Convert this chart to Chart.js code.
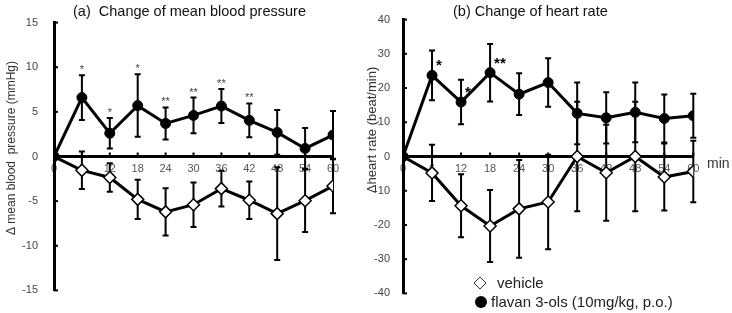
<!DOCTYPE html>
<html><head><meta charset="utf-8">
<script src="https://cdn.jsdelivr.net/npm/chart.js@4/dist/chart.umd.min.js"></script>
<style>
html,body{margin:0;padding:0;background:#fff;}
#wrap{position:relative;width:732px;height:313px;overflow:hidden;background:#fff;}
.box{position:absolute;top:0;height:313px;}
</style></head><body>
<div id="wrap">
<div class="box" style="left:0;width:355px"><canvas id="ca" width="355" height="313"></canvas></div>
<div class="box" style="left:355px;width:377px"><canvas id="cb" width="377" height="313"></canvas></div>
</div>
<script>
// ---------- data ----------
const minutes = [0, 6, 12, 18, 24, 30, 36, 42, 48, 54, 60];
const xTickValues = [0, 6, 12, 18, 24, 30, 36, 42, 48, 54, 60];

// (a) mean blood pressure change (mmHg)
const bpFlavan    = [0, 6.6, 2.6, 5.7, 3.7, 4.6, 5.65, 4.05, 2.7, 0.9, 2.4];
const bpFlavanSD  = [0, 2.5, 1.7, 3.5, 1.8, 2.0, 1.9, 1.9, 2.5, 2.3, 2.7];
const bpVehicle   = [0, -1.55, -2.35, -4.8, -6.2, -5.4, -3.6, -4.9, -6.4, -4.95, -3.3];
const bpVehicleSD = [0, 2.1, 1.6, 2.2, 2.65, 2.5, 2.0, 2.1, 5.2, 3.5, 3.05];
const bpSig       = ['', '*', '*', '*', '**', '**', '**', '**', '', '', ''];
const bpYTicks    = [-15, -10, -5, 0, 5, 10, 15];

// (b) heart rate change (beat/min)
const hrFlavan    = [0, 23.7, 15.9, 24.5, 18.2, 21.6, 12.6, 11.3, 12.9, 11.1, 11.9];
const hrFlavanSD  = [0, 7.3, 6.5, 8.4, 6.1, 7.1, 9.0, 7.5, 8.7, 7.0, 6.4];
const hrVehicle   = [0, -4.8, -14.4, -20.3, -15.3, -13.3, 0, -4.75, 0, -6.0, -4.4];
const hrVehicleSD = [0, 8.2, 9.2, 10.5, 14.3, 13.8, 16, 14, 16, 9.8, 9];
const hrSig       = ['', '*', '*', '**', '', '', '', '', '', '', ''];
const hrYTicks    = [-40, -30, -20, -10, 0, 10, 20, 30, 40];

const FONT = "'Liberation Sans', Arial, sans-serif";
Chart.defaults.font.family = FONT;

function xy(vals) { return minutes.map((m, i) => ({ x: m, y: vals[i] })); }

function panelPlugin(p) {
  return {
    id: 'panel_' + p.name,
    beforeDatasetsDraw(chart) {
      const { ctx, chartArea } = chart;
      const x = chart.scales.x, y = chart.scales.y;
      ctx.save();
      ctx.strokeStyle = '#000';
      ctx.lineWidth = 2;
      // inner tick marks
      y.ticks.forEach(t => {
        const py = y.getPixelForValue(t.value);
        ctx.beginPath(); ctx.moveTo(chartArea.left, py); ctx.lineTo(chartArea.left + 4, py); ctx.stroke();
      });
      const y0 = y.getPixelForValue(0);
      x.ticks.forEach(t => {
        const px = x.getPixelForValue(t.value);
        ctx.beginPath(); ctx.moveTo(px, y0); ctx.lineTo(px, y0 - 4); ctx.stroke();
      });
      // error bars
      p.errors.forEach(s => {
        s.mean.forEach((m, i) => {
          const sd = s.sd[i];
          if (!sd) return;
          const px = x.getPixelForValue(minutes[i]);
          const t = y.getPixelForValue(m + sd), b = y.getPixelForValue(m - sd);
          ctx.beginPath();
          ctx.moveTo(px, t); ctx.lineTo(px, b);
          ctx.moveTo(px - 3, t); ctx.lineTo(px + 3, t);
          ctx.moveTo(px - 3, b); ctx.lineTo(px + 3, b);
          ctx.stroke();
        });
      });
      ctx.restore();
    },
    afterDraw(chart) {
      const { ctx } = chart;
      const x = chart.scales.x, y = chart.scales.y;
      ctx.save();
      // significance marks
      p.sig.forEach((s, i) => {
        if (!s) return;
        const px = x.getPixelForValue(minutes[i]);
        if (p.sigStyle === 'above') {
          ctx.font = '11px ' + FONT; ctx.fillStyle = '#444'; ctx.textAlign = 'center'; ctx.textBaseline = 'alphabetic';
          ctx.fillText(s, px, y.getPixelForValue(p.sigMean[i] + p.sigSD[i]) - 2);
        } else {
          ctx.font = 'bold 15px ' + FONT; ctx.fillStyle = '#000'; ctx.textAlign = 'left'; ctx.textBaseline = 'alphabetic';
          ctx.fillText(s, px + 4, y.getPixelForValue(p.sigMean[i]) - 5);
        }
      });
      // title
      ctx.font = '14.5px ' + FONT; ctx.fillStyle = '#111'; ctx.textAlign = 'left'; ctx.textBaseline = 'middle';
      ctx.fillText(p.title, p.titleX, 12);
      // y-axis title
      ctx.save();
      ctx.translate(p.yTitleX, p.yTitleY);
      ctx.rotate(-Math.PI / 2);
      ctx.font = p.yTitleSize + 'px ' + FONT; ctx.fillStyle = '#333'; ctx.textAlign = 'center'; ctx.textBaseline = 'middle';
      ctx.fillText(p.yTitle, 0, 0);
      ctx.restore();
      if (p.extra) p.extra(chart);
      ctx.restore();
    }
  };
}

function makeChart(id, p) {
  return new Chart(document.getElementById(id), {
    type: 'line',
    data: {
      datasets: [
        { label: 'flavan 3-ols (10mg/kg, p.o.)', data: xy(p.flavan), borderColor: '#000', borderWidth: 3,
          pointStyle: 'circle', pointRadius: 5, pointBackgroundColor: '#000', pointBorderColor: '#000', pointBorderWidth: 1, tension: 0 },
        { label: 'vehicle', data: xy(p.vehicle), borderColor: '#000', borderWidth: 3,
          pointStyle: 'rectRot', pointRadius: 6, pointBackgroundColor: '#fff', pointBorderColor: '#000', pointBorderWidth: 1.5, tension: 0 }
      ]
    },
    options: {
      responsive: false, animation: false, devicePixelRatio: 1,
      layout: { padding: p.padding },
      plugins: { legend: { display: false }, tooltip: { enabled: false }, title: { display: false } },
      scales: {
        x: {
          type: 'linear', min: 0, max: 60, position: { y: 0 },
          afterBuildTicks: s => { s.ticks = xTickValues.map(v => ({ value: v })); },
          ticks: { font: { size: 11 }, color: '#555', padding: 6, maxRotation: 0, autoSkip: false },
          grid: { drawOnChartArea: false, drawTicks: false },
          border: { display: true, color: '#000', width: 3 }
        },
        y: {
          type: 'linear', min: p.yMin, max: p.yMax,
          afterBuildTicks: s => { s.ticks = p.yTicks.map(v => ({ value: v })); },
          afterFit: s => { s.width = p.yWidth; },
          ticks: { font: { size: 11 }, color: '#444', padding: p.yPad },
          grid: { drawOnChartArea: false, drawTicks: false },
          border: { display: true, color: '#000', width: 3 }
        }
      }
    },
    plugins: [panelPlugin(p)]
  });
}

makeChart('ca', {
  name: 'a', flavan: bpFlavan, vehicle: bpVehicle,
  errors: [{ mean: bpVehicle, sd: bpVehicleSD }, { mean: bpFlavan, sd: bpFlavanSD }],
  sig: bpSig, sigStyle: 'above', sigMean: bpFlavan, sigSD: bpFlavanSD,
  yMin: -15, yMax: 15, yTicks: bpYTicks, yWidth: 54, yPad: 16,
  padding: { left: 0, right: 22, top: 12, bottom: 19 },
  title: '(a)  Change of mean blood pressure', titleX: 73,
  yTitle: '\u0394 mean blood  pressure (mmHg)', yTitleSize: 12, yTitleX: 12, yTitleY: 148
});

makeChart('cb', {
  name: 'b', flavan: hrFlavan, vehicle: hrVehicle,
  errors: [{ mean: hrVehicle, sd: hrVehicleSD }, { mean: hrFlavan, sd: hrFlavanSD }],
  sig: hrSig, sigStyle: 'right', sigMean: hrFlavan, sigSD: hrFlavanSD,
  yMin: -40, yMax: 40, yTicks: hrYTicks, yWidth: 48, yPad: 13,
  padding: { left: 0, right: 38.7, top: 16, bottom: 17 },
  title: '(b) Change of heart rate', titleX: 98,
  yTitle: '\u0394heart rate (beat/min)', yTitleSize: 13, yTitleX: 17, yTitleY: 130,
  extra(chart) {
    const ctx = chart.ctx;
    const y0 = chart.scales.y.getPixelForValue(0);
    ctx.font = '14px ' + FONT; ctx.fillStyle = '#333'; ctx.textAlign = 'left'; ctx.textBaseline = 'middle';
    ctx.fillText('min', 352, y0 + 8);
    // legend
    ctx.save();
    ctx.fillStyle = '#fff'; ctx.strokeStyle = '#333'; ctx.lineWidth = 1;
    ctx.beginPath();
    ctx.moveTo(125, 277); ctx.lineTo(131, 283); ctx.lineTo(125, 289); ctx.lineTo(119, 283); ctx.closePath();
    ctx.fill(); ctx.stroke();
    ctx.fillStyle = '#000';
    ctx.beginPath(); ctx.arc(126, 302, 6, 0, Math.PI * 2); ctx.fill();
    ctx.restore();
    ctx.font = '15px ' + FONT; ctx.fillStyle = '#222'; ctx.textAlign = 'left'; ctx.textBaseline = 'alphabetic';
    ctx.fillText('vehicle', 142, 288);
    ctx.fillText('flavan 3-ols (10mg/kg, p.o.)', 136, 307);
  }
});
</script>
</body></html>
